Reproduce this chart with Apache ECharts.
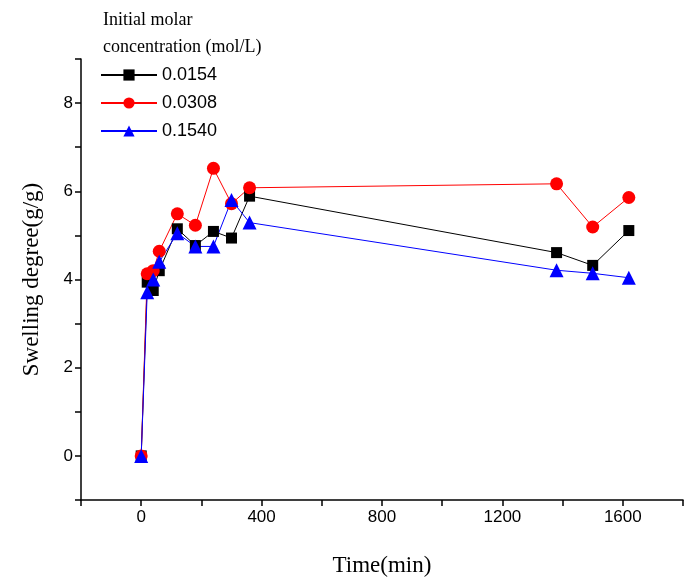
<!DOCTYPE html>
<html><head><meta charset="utf-8">
<script src="https://cdn.jsdelivr.net/npm/echarts@6/dist/echarts.min.js"></script>
<style>html,body{margin:0;padding:0;background:#fff}#c{width:693px;height:585px}</style>
</head><body><div id="c"></div>
<script>
const times = [0, 20, 40, 60, 120, 180, 240, 300, 360, 1380, 1500, 1620];
const s0154 = [0, 3.94, 3.75, 4.20, 5.15, 4.77, 5.09, 4.94, 5.89, 4.61, 4.32, 5.11];
const s0308 = [0, 4.13, 4.20, 4.64, 5.49, 5.23, 6.52, 5.72, 6.08, 6.17, 5.19, 5.86];
const s1540 = [0, 3.71, 4.00, 4.40, 5.05, 4.75, 4.75, 5.80, 5.29, 4.21, 4.14, 4.04];
const seriesNames = ['0.0154', '0.0308', '0.1540'];
const legendTitle = ['Initial molar', 'concentration (mol/L)'];
const xTitle = 'Time(min)';
const yTitle = 'Swelling degree(g/g)';

const pair = (vals) => times.map((t, i) => [t, vals[i]]);
const chart = echarts.init(document.getElementById('c'));
const mk = (name, vals, color, symbol, size) => ({
  name, type: 'line', data: pair(vals), symbol, symbolSize: size,
  lineStyle: { color, width: 1 }, itemStyle: { color }, z: 3
});
chart.setOption({
  animation: false,
  title: {
    text: legendTitle.join('\n'), left: 98, top: 2,
    textStyle: { fontFamily: 'Liberation Serif', fontSize: 18, fontWeight: 'normal', color: '#000', lineHeight: 27 }
  },
  legend: {
    orient: 'vertical', left: 95, top: 61, itemWidth: 56, itemHeight: 14, itemGap: 10,
    textStyle: { fontFamily: 'Liberation Sans', fontSize: 18, color: '#000' },
    data: seriesNames
  },
  grid: { left: 81, right: 10, top: 59, bottom: 85 },
  xAxis: {
    type: 'value', min: -200, max: 1800, interval: 200,
    name: xTitle, nameLocation: 'middle', nameGap: 54,
    nameTextStyle: { fontFamily: 'Liberation Serif', fontSize: 23, color: '#000' },
    axisLine: { onZero: false, lineStyle: { color: '#000', width: 1.5 } },
    axisTick: { length: 6, lineStyle: { color: '#000', width: 1.5 } },
    axisLabel: { fontFamily: 'Liberation Sans', fontSize: 17, color: '#000', margin: 9,
      formatter: v => (v % 400 === 0 ? String(v) : '') },
    splitLine: { show: false }
  },
  yAxis: {
    type: 'value', min: -1, max: 9, interval: 1,
    name: yTitle, nameLocation: 'middle', nameGap: 38,
    nameTextStyle: { fontFamily: 'Liberation Serif', fontSize: 23, color: '#000' },
    axisLine: { onZero: false, lineStyle: { color: '#000', width: 1.5 } },
    axisTick: { length: 6, lineStyle: { color: '#000', width: 1.5 } },
    axisLabel: { fontFamily: 'Liberation Sans', fontSize: 17, color: '#000', margin: 8,
      formatter: v => (v >= 0 && v % 2 === 0 && v < 9 ? String(v) : '') },
    splitLine: { show: false }
  },
  series: [
    mk(seriesNames[0], s0154, '#000000', 'rect', 11),
    mk(seriesNames[1], s0308, '#ff0000', 'circle', 13),
    mk(seriesNames[2], s1540, '#0000ff', 'triangle', 14)
  ]
});
</script></body></html>
